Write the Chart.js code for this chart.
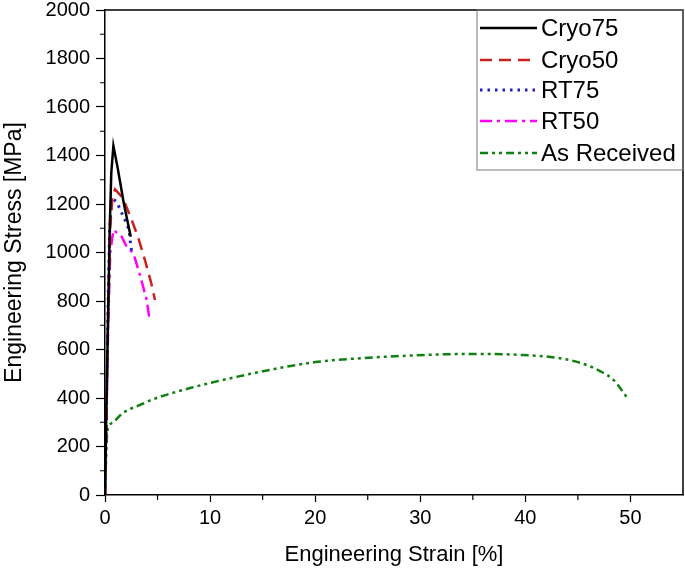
<!DOCTYPE html>
<html>
<head>
<meta charset="utf-8">
<script src="https://cdn.jsdelivr.net/npm/chart.js@4.4.0/dist/chart.umd.min.js"></script>
<style>
  html, body { margin: 0; padding: 0; background: #fff; }
  #wrap { width: 685px; height: 574px; position: relative; }
</style>
</head>
<body>
<div id="wrap"><canvas id="chart"></canvas></div>
<script>
// values (strain in %, stress in MPa)
const cryo75Strain = [0, 0.15, 0.3, 0.45, 0.6, 0.8, 1.2, 1.8, 2.45];
const cryo75Stress = [0, 400, 750, 1100, 1330, 1440, 1350, 1200, 1065];

const cryo50Strain = [0, 0.15, 0.3, 0.5, 0.7, 0.95, 1.7, 2.54, 3.17, 3.8, 4.4, 4.76];
const cryo50Stress = [0, 400, 750, 1100, 1230, 1260, 1225, 1134, 1060, 969, 874, 804];

const rt75Strain = [0, 0.15, 0.3, 0.45, 0.63, 1.1, 1.43, 1.9, 2.3, 2.38, 2.54];
const rt75Stress = [0, 400, 800, 1100, 1225, 1209, 1179, 1134, 1093, 1052, 1003];

const rt50Strain = [0, 0.15, 0.3, 0.5, 0.8, 1.59, 2.06, 2.7, 3.33, 3.97, 4.2];
const rt50Stress = [0, 350, 700, 1000, 1093, 1065, 1024, 997, 907, 804, 735];

const asRecStrain = [0, 0.1, 0.2, 0.3, 0.8, 1.7, 3.3, 4.9, 8.1, 10, 15, 20, 25, 28, 33.8, 37, 39.8, 42.4, 45, 47.1, 48.4, 49.7];
const asRecStress = [0, 150, 250, 276, 300, 338, 371, 400, 441, 462, 510, 548, 566, 573, 581, 581, 577, 569, 548, 511, 474, 400];

const seriesLabels = ['Cryo75', 'Cryo50', 'RT75', 'RT50', 'As Received'];

const FONT = "'Liberation Sans', Arial, sans-serif";

function pts(xs, ys) {
  return xs.map((x, i) => ({ x: x, y: ys[i] }));
}

// minor ticks, frame on top/right and the boxed legend
const framePlugin = {
  id: 'frame',
  afterDraw(chart) {
    const ctx = chart.ctx;
    const a = chart.chartArea;
    const xs = chart.scales.x, ys = chart.scales.y;
    ctx.save();
    ctx.strokeStyle = '#000';
    ctx.lineWidth = 1.5;
    ctx.beginPath();
    ctx.moveTo(a.left, a.top);
    ctx.lineTo(a.right, a.top);
    ctx.lineTo(a.right, a.bottom);
    ctx.stroke();

    ctx.lineWidth = 1.2;
    ctx.beginPath();
    for (let v = 5; v < 55; v += 10) {
      const px = xs.getPixelForValue(v);
      ctx.moveTo(px, a.bottom);
      ctx.lineTo(px, a.bottom + 5);
    }
    for (let v = 100; v < 2000; v += 200) {
      const py = ys.getPixelForValue(v);
      ctx.moveTo(a.left, py);
      ctx.lineTo(a.left - 5, py);
    }
    ctx.stroke();

    // legend
    const bx = 477, by = a.top, bw = a.right - 477, bh = 160;
    ctx.strokeStyle = '#777';
    ctx.lineWidth = 1;
    ctx.strokeRect(bx, by, bw, bh);
    const rowY = [28, 60, 90, 121, 153];
    chart.data.datasets.forEach((ds, i) => {
      ctx.save();
      ctx.strokeStyle = ds.borderColor;
      ctx.lineWidth = ds.borderWidth;
      ctx.setLineDash(ds.borderDash || []);
      ctx.beginPath();
      ctx.moveTo(480, rowY[i]);
      ctx.lineTo(537, rowY[i]);
      ctx.stroke();
      ctx.restore();
      ctx.fillStyle = '#000';
      ctx.font = '24px ' + FONT;
      ctx.textBaseline = 'middle';
      ctx.fillText(ds.label, 541, rowY[i] + 1);
    });
    ctx.restore();
  }
};

new Chart(document.getElementById('chart'), {
  type: 'line',
  data: {
    datasets: [
      { label: seriesLabels[0], data: pts(cryo75Strain, cryo75Stress), borderColor: '#000000', borderWidth: 2.5 },
      { label: seriesLabels[1], data: pts(cryo50Strain, cryo50Stress), borderColor: '#cc2020', borderWidth: 2.5, borderDash: [12, 7] },
      { label: seriesLabels[2], data: pts(rt75Strain, rt75Stress), borderColor: '#2020c0', borderWidth: 3, borderDash: [2.5, 5] },
      { label: seriesLabels[3], data: pts(rt50Strain, rt50Stress), borderColor: '#ff00ff', borderWidth: 2.5, borderDash: [12, 5, 3, 5] },
      { label: seriesLabels[4], data: pts(asRecStrain, asRecStress), borderColor: '#108010', borderWidth: 2.5, borderDash: [8, 4, 3, 4, 3, 4], cubicInterpolationMode: 'monotone' }
    ]
  },
  options: {
    responsive: true,
    maintainAspectRatio: false,
    animation: false,
    layout: { padding: { top: 10, right: 2, left: 0, bottom: 0 } },
    elements: { point: { radius: 0 }, line: { tension: 0 } },
    plugins: {
      legend: { display: false },
      tooltip: { enabled: false }
    },
    scales: {
      x: {
        type: 'linear',
        min: 0,
        max: 55,
        afterFit: (s) => { s.height = 79; s.paddingLeft = 0; s.paddingRight = 0; },
        border: { display: true, color: '#000', width: 1.5 },
        grid: {
          drawOnChartArea: false,
          drawTicks: true,
          tickLength: 7,
          tickWidth: 1.2,
          tickColor: (c) => (c.tick && c.tick.value % 10 === 0 ? '#000' : 'rgba(0,0,0,0)')
        },
        ticks: {
          stepSize: 5,
          autoSkip: false,
          maxRotation: 0,
          padding: 4,
          color: '#000',
          font: { family: FONT, size: 20 },
          callback: (v) => (v % 10 === 0 ? String(v) : '')
        },
        title: {
          display: true,
          text: 'Engineering Strain [%]',
          color: '#000',
          font: { family: FONT, size: 22 },
          padding: { top: 0, bottom: 6 }
        }
      },
      y: {
        min: 0,
        max: 2000,
        afterFit: (s) => { s.width = 105; s.paddingTop = 0; s.paddingBottom = 0; },
        border: { display: true, color: '#000', width: 1.5 },
        grid: {
          drawOnChartArea: false,
          drawTicks: true,
          tickLength: 9,
          tickWidth: 1.2,
          tickColor: (c) => (c.tick && c.tick.value % 200 === 0 ? '#000' : 'rgba(0,0,0,0)')
        },
        ticks: {
          stepSize: 100,
          autoSkip: false,
          padding: 6,
          color: '#000',
          font: { family: FONT, size: 20 },
          callback: (v) => (v % 200 === 0 ? String(v) : '')
        },
        title: {
          display: true,
          text: 'Engineering Stress [MPa]',
          color: '#000',
          font: { family: FONT, size: 23 },
          padding: { top: 1, bottom: 0 }
        }
      }
    }
  },
  plugins: [framePlugin]
});
</script>
</body>
</html>
